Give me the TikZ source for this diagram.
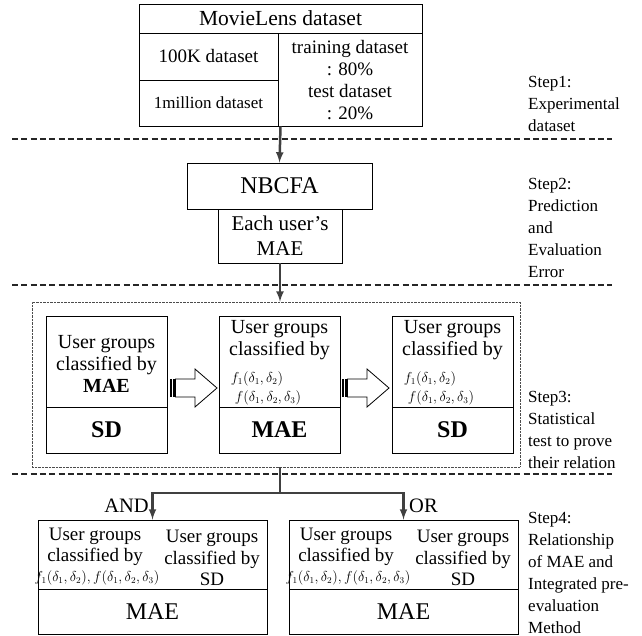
\documentclass[tikz,border=0pt]{standalone}
\usepackage{fontspec}
\setmainfont{Liberation Serif}
\usepackage{tikz}
\usetikzlibrary{arrows, positioning}
\newcommand{\setfs}[2]{\fontsize{#1}{#2}\selectfont}
\newcommand{\stripedarrow}[1]{%
    \fill #1 ++(0,-9) rectangle ++(2,18);
    \fill #1 ++(3.3,-9) rectangle ++(1.2,18);
    \draw[line width=0.8pt, fill=white] #1 ++(5.5,-9) -- ++(19.5,0) -- ++(0,-10) -- ++(22,19) -- ++(-22,19) -- ++(0,-10) -- ++(-19.5,0) -- cycle;
}
\tikzset{
    frame/.style={
        rectangle,
        draw,
        line width=0.9pt,
        inner sep=0pt
    },
    label text/.style={
        inner sep=0pt,
        align=center,
        font=\setfs{19}{21.5}
    },
    formula/.style={
        inner sep=0pt,
        font=\setfs{13.5}{16}
    },
    steptext/.style={
        anchor=west,
        align=left,
        inner sep=0pt,
        font=\setfs{17}{22}
    },
    sepline/.style={
        line width=1.2pt,
        dash pattern=on 6pt off 3.3pt,
        black!85
    },
    groupframe/.style={
        draw=black!70,
        line width=0.7pt,
        dash pattern=on 0.7pt off 0.7pt
    },
    connector/.style={
        -latex,
        line width=2.5pt,
        draw=black!75
    }
}
\begin{document}
\begin{tikzpicture}[x=1pt, y=-1pt]
\useasboundingbox (0,0) rectangle (642,636);

\node[frame, minimum width=283, minimum height=122] (dataset) at (280.5,65) {};
\node[frame, minimum width=283, minimum height=29, font=\setfs{21.5}{24}] (movielens) at (280.5,18.5) {MovieLens dataset};
\node[frame, minimum width=139, minimum height=47, font=\setfs{19}{22}] (hundredk) at (208.5,56.5) {100K dataset};
\node[frame, minimum width=139, minimum height=46, font=\setfs{17}{20}] (million) at (208.5,103) {1million dataset};
\node[label text, font=\setfs{19}{22.3}] (split) at (350,80) {training dataset\\: 80\%\\test dataset\\: 20\%};
\node[steptext] (step1) at (528,104) {Step1:\\Experimental\\dataset};
\draw[sepline] (12,139) -- (612,139);

\node[frame, minimum width=185, minimum height=46, font=\setfs{24}{26}] (nbcfa) at (279.5,186) {NBCFA};
\node[frame, minimum width=124, minimum height=54, align=center, font=\setfs{21}{25}] (usermae) at (280,236) {Each user's\\MAE};
\node[steptext] (step2) at (528,228) {Step2:\\Prediction\\and\\Evaluation\\Error};
\draw[sepline] (12,285) -- (612,285);

\node[groupframe, minimum width=488, minimum height=165] (relation) at (276,384.5) {};
\node[frame, minimum width=121, minimum height=91] (grpA) at (106.5,361.5) {};
\node[frame, minimum width=121, minimum height=46, font=\setfs{24}{26}\bfseries] (grpAbot) at (106.5,430) {SD};
\node[frame, minimum width=121, minimum height=91] (grpB) at (279.5,361.5) {};
\node[frame, minimum width=121, minimum height=46, font=\setfs{24}{26}\bfseries] (grpBbot) at (279.5,430) {MAE};
\node[frame, minimum width=121, minimum height=91] (grpC) at (452.5,361.5) {};
\node[frame, minimum width=121, minimum height=46, font=\setfs{24}{26}\bfseries] (grpCbot) at (452.5,430) {SD};
\node[label text, font=\setfs{20}{21.7}] (grpAtext) at (106.5,364) {User groups\\classified by\\\textbf{MAE}};
\node[label text, font=\setfs{20}{22}] (grpBtext) at (279.5,340) {User groups\\classified by};
\node[formula] (grpBf1) at (257,379) {$f_1(\delta_1,\delta_2)$};
\node[formula] (grpBf2) at (268,398) {$f(\delta_1,\delta_2,\delta_3)$};
\node[label text, font=\setfs{20}{22}] (grpCtext) at (452.5,340) {User groups\\classified by};
\node[formula] (grpCf1) at (430,379) {$f_1(\delta_1,\delta_2)$};
\node[formula] (grpCf2) at (441,398) {$f(\delta_1,\delta_2,\delta_3)$};
\stripedarrow{(170,388)}
\stripedarrow{(342,388)}
\node[steptext] (step3) at (528,430) {Step3:\\Statistical\\test to prove\\their relation};
\draw[sepline] (12,474) -- (612,474);

\node[frame, minimum width=229, minimum height=114] (andbox) at (152.5,577) {};
\node[frame, minimum width=229, minimum height=45, font=\setfs{24}{26}] (andmae) at (152.5,611.5) {MAE};
\node[label text] (andleft) at (95,547) {User groups\\classified by};
\node[formula] (andf) at (97,578) {$f_1(\delta_1,\delta_2), f(\delta_1,\delta_2,\delta_3)$};
\node[label text] (andright) at (212,558) {User groups\\classified by\\SD};
\node[frame, minimum width=229, minimum height=114] (orbox) at (403.5,577) {};
\node[frame, minimum width=229, minimum height=45, font=\setfs{24}{26}] (ormae) at (403.5,611.5) {MAE};
\node[label text] (orleft) at (346,547) {User groups\\classified by};
\node[formula] (orf) at (348,578) {$f_1(\delta_1,\delta_2), f(\delta_1,\delta_2,\delta_3)$};
\node[label text] (orright) at (463,558) {User groups\\classified by\\SD};
\node[steptext] (step4) at (528,573) {Step4:\\Relationship\\of MAE and\\Integrated pre-\\evaluation\\Method};

\coordinate (fork) at (280,493);
\draw[connector] (dataset.south) -- (nbcfa.north);
\draw[connector] (usermae.south) -- (usermae.south |- relation.north);
\draw[line width=2.5pt, draw=black!75] (relation.south -| usermae.south) -- (fork);
\draw[connector] (fork) -| (andbox.north);
\draw[connector] (fork) -| (orbox.north);
\node[anchor=east, inner sep=0pt, font=\setfs{20.5}{22}] (andlabel) at (149,506) {AND};
\node[anchor=west, inner sep=0pt, font=\setfs{20.5}{22}] (orlabel) at (409,506) {OR};

\end{tikzpicture}
\end{document}
